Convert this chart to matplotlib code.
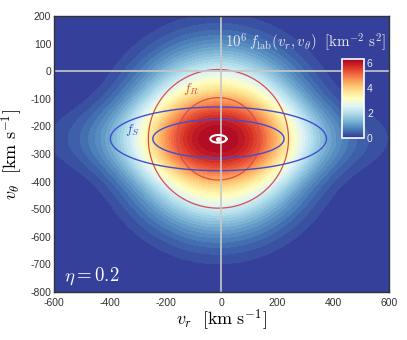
import numpy as np
import matplotlib
matplotlib.use("Agg")
import matplotlib.pyplot as plt
from matplotlib.colors import Normalize

plt.rcParams['mathtext.fontset'] = 'cm'
plt.rcParams['axes.unicode_minus'] = False
plt.rcParams['font.family'] = ['Liberation Sans', 'DejaVu Sans']

# ---- values ----
eta = 0.2
lab_center = [-11.0, -245.0]          # (v_r, v_theta) of the lab-frame peak
round_peak = 4.8                      # peak of (1-eta) f_R  [1e-6 km^-2 s^2]
sausage_peak = 1.4                    # peak of eta f_S
round_scale = [285.0, 285.0]          # f_R width (v_r, v_theta)
sausage_scale = [460.0, 137.0]        # f_S width (v_r, v_theta)
profile_power = 2.5                   # flat-topped radial profile
round_contour_r = [149.0, 251.0]      # radii of the f_R contour circles
sausage_contour_vr = [235.0, 387.0]   # v_r semi-axes of the f_S contour ellipses
earth_axes = [29.0, 14.0]             # annual-modulation ellipse semi-axes
xticks = [-600, -400, -200, 0, 200, 400, 600]
yticks = [200, 100, 0, -100, -200, -300, -400, -500, -600, -700, -800]
cbar_ticks = [0, 2, 4, 6]
xlim = [-600, 600]
ylim = [-800, 200]
vmax_color = 6.3

vr = np.linspace(xlim[0], xlim[1], 601)
vt = np.linspace(ylim[0], ylim[1], 501)
VR, VT = np.meshgrid(vr, vt)


def rho(scale):
    return np.sqrt(((VR - lab_center[0]) / scale[0]) ** 2 + ((VT - lab_center[1]) / scale[1]) ** 2)


fR = round_peak * np.exp(-rho(round_scale) ** profile_power)
fS = sausage_peak * np.exp(-rho(sausage_scale) ** profile_power)
f = fR + fS

fig = plt.figure(figsize=(4.07, 3.40), dpi=100)
ax = fig.add_axes([0.1327, 0.141, 0.823, 0.812])
cmap = plt.get_cmap('RdYlBu_r')
norm = Normalize(0, vmax_color)
levels = np.concatenate([[0], np.linspace(0.2, f.max(), 40)])
ax.contourf(VR, VT, f, levels=levels, cmap=cmap, norm=norm, extend='both')

# component contours
lvR = sorted(round_peak * np.exp(-(np.array(round_contour_r) / round_scale[0]) ** profile_power))
lvS = sorted(sausage_peak * np.exp(-(np.array(sausage_contour_vr) / sausage_scale[0]) ** profile_power))
ax.contour(VR, VT, fR, levels=lvR, colors='#d8504a', linewidths=0.9)
ax.contour(VR, VT, fS, levels=lvS, colors='#3f4fd0', linewidths=1.0)

# axes lines
ax.axhline(0, color='#c8c8c8', lw=1.2)
ax.axvline(0, color='#c8c8c8', lw=1.2)

# Earth modulation ellipse
t = np.linspace(0, 2 * np.pi, 200)
ax.plot(lab_center[0] + earth_axes[0] * np.cos(t), lab_center[1] + earth_axes[1] * np.sin(t),
        color='white', lw=1.5)
ax.plot(lab_center[0], lab_center[1], 'o', color='white', ms=2.5)

ax.text(-110, -65, r'$f_R$', color='#d8504a', fontsize=10, ha='center', va='center')
ax.text(-317, -213, r'$f_S$', color='#3f4fd0', fontsize=10, ha='center', va='center')
ax.text(0.99, 0.885, r'$10^6\,f_{\rm lab}(v_r,v_\theta)\ \ [{\rm km}^{-2}\ {\rm s}^2]$',
        transform=ax.transAxes, color='#e8e8f0', fontsize=10.8, ha='right', va='baseline')
ax.text(0.03, 0.02, r'$\eta = 0.2$', transform=ax.transAxes, color='white', fontsize=13.5,
        ha='left', va='bottom')

ax.set_xlim(xlim)
ax.set_ylim(ylim)
ax.set_xticks(xticks)
ax.set_yticks(yticks)
ax.tick_params(axis='both', labelsize=7.5, direction='in', length=0, labelcolor='#333333')
ax.tick_params(axis='x', pad=4)
ax.tick_params(axis='y', pad=2)
ax.set_xlabel(r'$v_r\ \ [{\rm km\ s}^{-1}]$', fontsize=13, labelpad=0)
ax.set_ylabel(r'$v_\theta\ \ [{\rm km\ s}^{-1}]$', fontsize=13, labelpad=4)
for s in ax.spines.values():
    s.set_linewidth(1.0)
    s.set_color('#333333')

# colorbar inset
cax = ax.inset_axes([0.86, 0.558, 0.066, 0.286])
sm = plt.cm.ScalarMappable(norm=norm, cmap=cmap)
cb = fig.colorbar(sm, cax=cax, ticks=cbar_ticks)
cb.outline.set_edgecolor('white')
cb.outline.set_linewidth(1.2)
cax.tick_params(labelsize=7.5, length=0, pad=2, labelcolor='#e8e8f0')

fig.savefig('out.png', dpi=100)
